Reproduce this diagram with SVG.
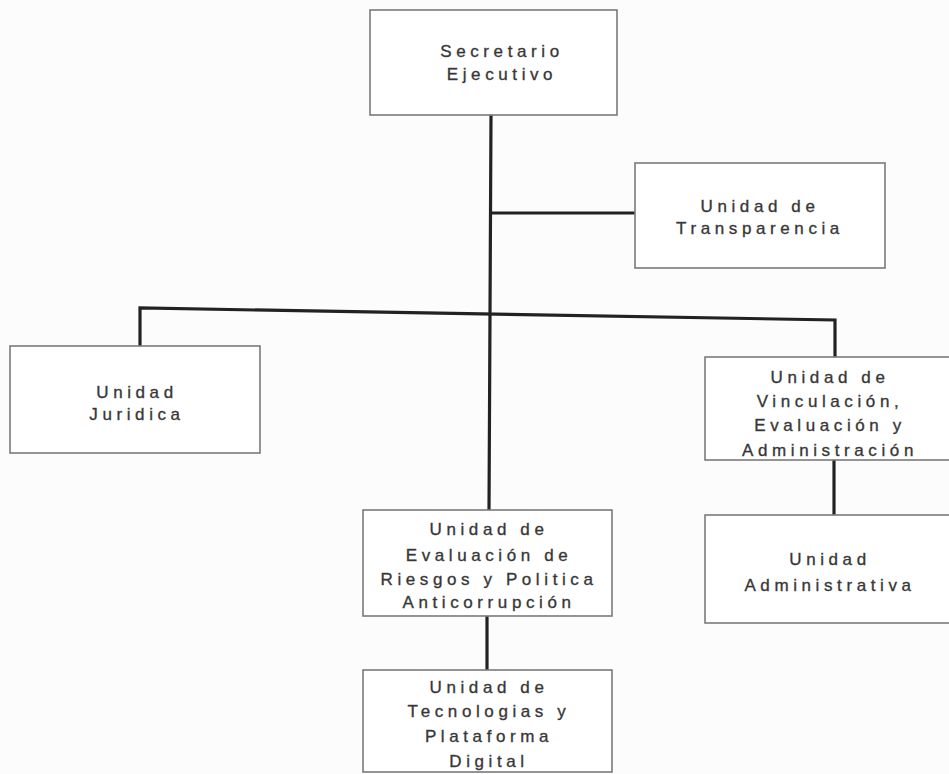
<svg xmlns="http://www.w3.org/2000/svg" width="949" height="774" viewBox="0 0 949 774">
<style>
.box{fill:#ffffff;stroke:#7a7a7a;stroke-width:1.6}
.lbl{font-family:"Liberation Sans",Arial,sans-serif;font-size:17px;letter-spacing:4.6px;fill:#333;stroke:#444;stroke-width:0.35;text-anchor:middle}
.con{fill:none;stroke:#222;stroke-width:3.2;stroke-linejoin:miter}
</style>
<rect width="949" height="774" fill="#fcfcfc"/>
<g id="connectors">
<path class="con" d="M491 115 L490 314 L489 510"/>
<path class="con" d="M491 213 L635 213"/>
<path class="con" d="M140 346 L140 308 L835 320 L835 357"/>
<path class="con" d="M834 460 L834 515"/>
<path class="con" d="M487 616 L487 670"/>
</g>
<g id="secretario">
<rect class="box" x="370" y="10" width="247" height="105"/>
<text class="lbl" x="502" y="57">Secretario</text>
<text class="lbl" x="502" y="80">Ejecutivo</text>
</g>
<g id="transparencia">
<rect class="box" x="635" y="163" width="250" height="105"/>
<text class="lbl" x="760" y="212">Unidad de</text>
<text class="lbl" x="760" y="234">Transparencia</text>
</g>
<g id="juridica">
<rect class="box" x="10" y="346" width="250" height="107"/>
<text class="lbl" x="137" y="398">Unidad</text>
<text class="lbl" x="137" y="420">Juridica</text>
</g>
<g id="vinculacion">
<rect class="box" x="705" y="357" width="250" height="103"/>
<text class="lbl" x="830" y="383">Unidad de</text>
<text class="lbl" x="830" y="407">Vinculación,</text>
<text class="lbl" x="830" y="431">Evaluación y</text>
<text class="lbl" x="830" y="456">Administración</text>
</g>
<g id="administrativa">
<rect class="box" x="705" y="515" width="250" height="108"/>
<text class="lbl" x="830" y="565">Unidad</text>
<text class="lbl" x="830" y="591">Administrativa</text>
</g>
<g id="evaluacion">
<rect class="box" x="363" y="510" width="249" height="106"/>
<text class="lbl" x="489" y="535">Unidad de</text>
<text class="lbl" x="489" y="561">Evaluación de</text>
<text class="lbl" x="489" y="585">Riesgos y Politica</text>
<text class="lbl" x="489" y="608">Anticorrupción</text>
</g>
<g id="tecnologias">
<rect class="box" x="363" y="670" width="249" height="102"/>
<text class="lbl" x="489" y="693">Unidad de</text>
<text class="lbl" x="489" y="717">Tecnologias y</text>
<text class="lbl" x="489" y="742">Plataforma</text>
<text class="lbl" x="489" y="767">Digital</text>
</g>
</svg>
